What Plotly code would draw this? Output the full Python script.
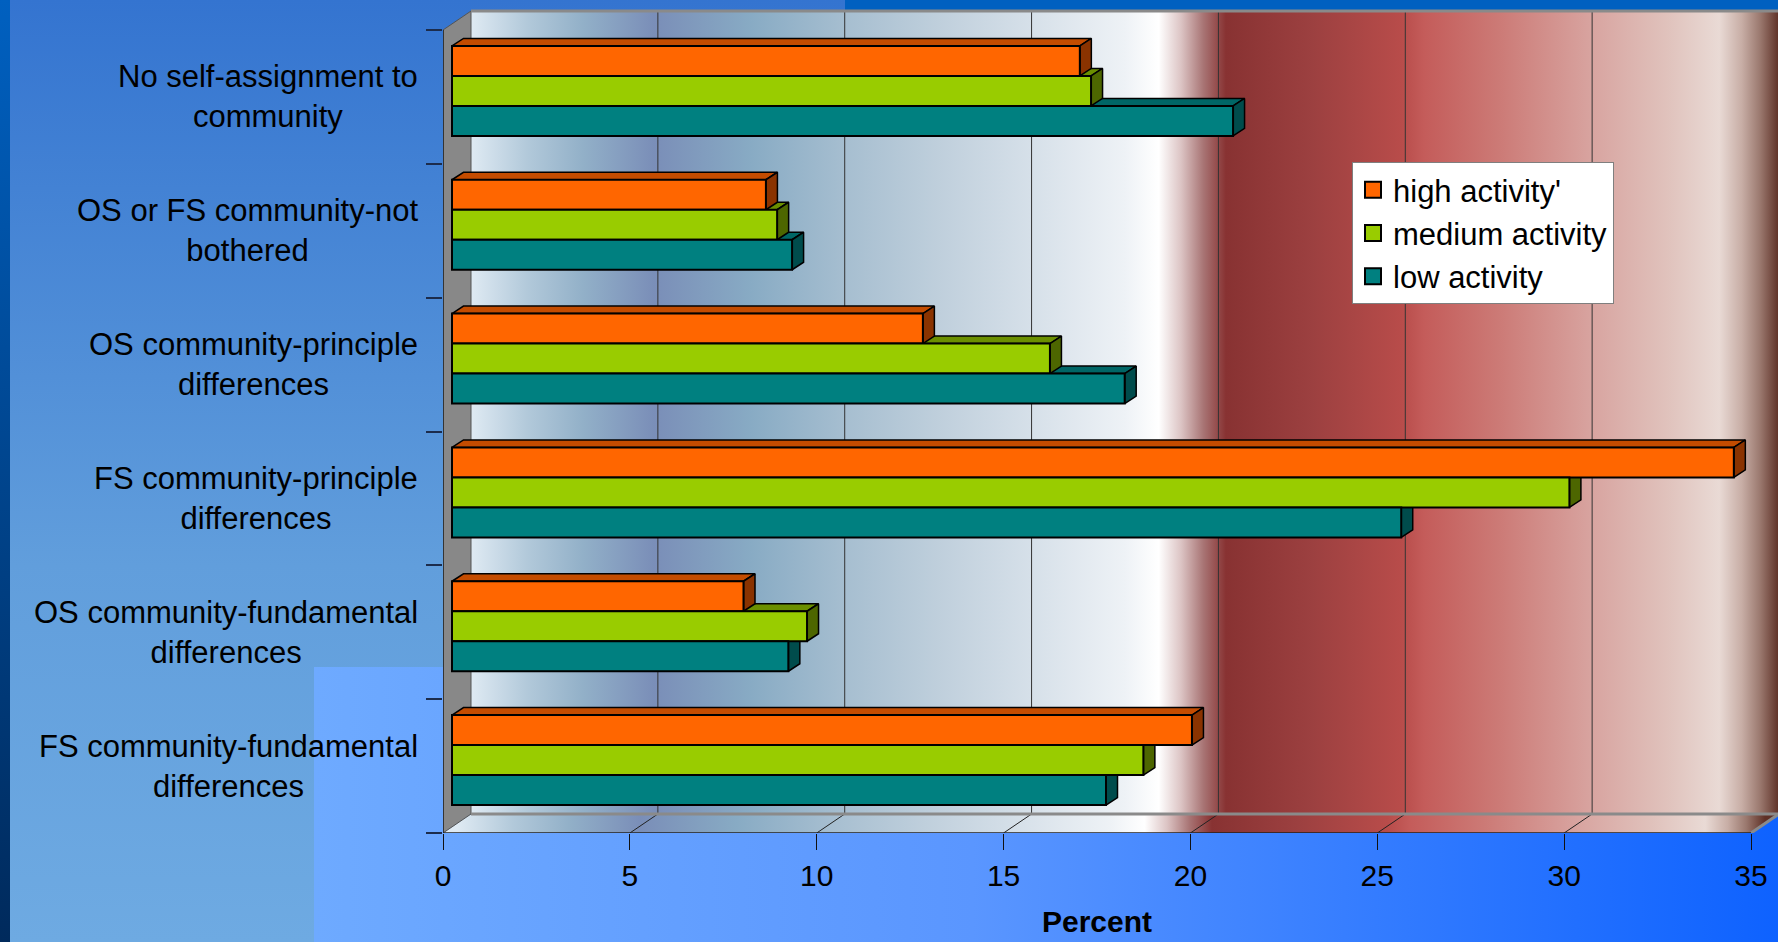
import base64
import plotly.graph_objects as go

# ---------------- data ----------------
categories = [
    "No self-assignment to<br>community",
    "OS or FS community-not<br>bothered",
    "OS community-principle<br>differences",
    "FS community-principle<br>differences",
    "OS community-fundamental<br>differences",
    "FS community-fundamental<br>differences",
]
series_names = ["high activity'", "medium activity", "low activity"]
high_activity = [16.8, 8.4, 12.6, 34.3, 7.8, 19.8]
medium_activity = [17.1, 8.7, 16.0, 29.9, 9.5, 18.5]
low_activity = [20.9, 9.1, 18.0, 25.4, 9.0, 17.5]
x_ticks = [0, 5, 10, 15, 20, 25, 30, 35]
x_title = "Percent"

# ---------------- style ----------------
front_colors = ["#ff6600", "#99cc00", "#008080"]
top_colors = ["#c44c00", "#6b8f00", "#006666"]
side_colors = ["#8a3300", "#4d6600", "#004c4c"]
FONT = "Liberation Sans, Arial, sans-serif"

FIG_W, FIG_H = 1778, 942
L_PX, T_PX, B_PX = 443, 6, 833
X_END = x_ticks[-1]
PX_X = (1751 - L_PX) / X_END
BAND = (B_PX - 30) / len(categories)
XMAX = (FIG_W - L_PX) / PX_X
YMIN = -0.5
YTOP = YMIN + len(categories)
YMAX = YMIN + (B_PX - T_PX) / BAND
WALL_DX, WALL_DY = 28 / PX_X, 19 / BAND
BAR_SHIFT_X, BAR_SHIFT_Y = 9 / PX_X, 6 / BAND
BAR_DX, BAR_DY = 11.5 / PX_X, 7.5 / BAND
BAR_H = 30 / BAND

wall_stops = [
    (0.0, "#dfeaf3"), (1.5, "#b2c9da"), (3.0, "#92b0c8"), (4.9, "#7a8eb8"),
    (7.5, "#88abc4"), (10, "#a6bed0"), (12.5, "#bfcfdc"), (15, "#d6e0e9"),
    (17.5, "#eef2f6"), (18.4, "#ffffff"), (19.0, "#dcc4c4"), (19.6, "#a87474"),
    (20.2, "#883232"), (22.5, "#9c4040"), (24.9, "#b84c4a"), (25.5, "#c45c5a"),
    (27.5, "#cc7a76"), (30, "#d8a4a0"), (32, "#e0c2bc"), (33.4, "#e9dad5"),
    (34.0, "#c8aea6"), (34.5, "#9a786e"), (35, "#5e3026"),
]
wall_scale = [[u / 35, c] for u, c in wall_stops]

n = len(categories)
cat_pos = [n - 1 - i for i in range(n)]

fig = go.Figure()

# ---- 3D box: back wall, floor, left wall ----
fig.add_trace(go.Scatter(
    x=[WALL_DX, X_END + WALL_DX, X_END + WALL_DX, WALL_DX, WALL_DX],
    y=[YMIN + WALL_DY, YMIN + WALL_DY, YTOP + WALL_DY, YTOP + WALL_DY, YMIN + WALL_DY],
    mode="lines", line=dict(width=0), fill="toself",
    fillgradient=dict(type="horizontal", colorscale=wall_scale,
                      start=WALL_DX, stop=X_END + WALL_DX),
    showlegend=False, hoverinfo="skip"))
fig.add_trace(go.Scatter(
    x=[0, X_END, X_END + WALL_DX, WALL_DX, 0],
    y=[YMIN, YMIN, YMIN + WALL_DY, YMIN + WALL_DY, YMIN],
    mode="lines", line=dict(width=0), fill="toself",
    fillgradient=dict(type="horizontal", colorscale=wall_scale,
                      start=WALL_DX / 2, stop=X_END + WALL_DX / 2),
    showlegend=False, hoverinfo="skip"))
fig.add_trace(go.Scatter(
    x=[0, WALL_DX, WALL_DX, 0, 0],
    y=[YMIN, YMIN + WALL_DY, YTOP + WALL_DY, YTOP, YMIN],
    mode="lines", line=dict(width=1, color="#555555"), fill="toself",
    fillcolor="#888888", showlegend=False, hoverinfo="skip"))

# gridlines on back wall and floor
gx, gy, fx, fy = [], [], [], []
for t in x_ticks[1:-1]:
    gx += [t + WALL_DX, t + WALL_DX, None]
    gy += [YMIN + WALL_DY, YTOP + WALL_DY, None]
    fx += [t, t + WALL_DX, None]
    fy += [YMIN, YMIN + WALL_DY, None]
fig.add_trace(go.Scatter(x=gx, y=gy, mode="lines", line=dict(color="#333333", width=1),
                         showlegend=False, hoverinfo="skip"))
fig.add_trace(go.Scatter(x=fx, y=fy, mode="lines", line=dict(color="#222222", width=1),
                         showlegend=False, hoverinfo="skip"))
# gray edges of box
fig.add_trace(go.Scatter(
    x=[WALL_DX, X_END + WALL_DX, None, WALL_DX, X_END + WALL_DX, None, X_END, X_END + WALL_DX],
    y=[YMIN + WALL_DY, YMIN + WALL_DY, None, YTOP + WALL_DY, YTOP + WALL_DY, None, YMIN, YMIN + WALL_DY],
    mode="lines", line=dict(color="#8a8a8a", width=3), showlegend=False, hoverinfo="skip"))
# front axis lines
fig.add_trace(go.Scatter(
    x=[0, 0, None, 0, X_END], y=[YTOP, YMIN, None, YMIN, YMIN],
    mode="lines", line=dict(color="#222222", width=1.5), showlegend=False, hoverinfo="skip"))

# ---- bar side faces (main axes, below front faces) ----
series_vals = [high_activity, medium_activity, low_activity]
series_off = [BAR_H, 0.0, -BAR_H]
b = BAR_SHIFT_X
for k in [2, 1, 0]:
    tx, ty, sx, sy = [], [], [], []
    for v, p in zip(series_vals[k], cat_pos):
        yc = p + BAR_SHIFT_Y + series_off[k]
        top, bot = yc + BAR_H / 2, yc - BAR_H / 2
        tx += [b, b + BAR_DX, b + v + BAR_DX, b + v, b, None]
        ty += [top, top + BAR_DY, top + BAR_DY, top, top, None]
        sx += [b + v, b + v, b + v + BAR_DX, b + v + BAR_DX, b + v, None]
        sy += [bot, top, top + BAR_DY, bot + BAR_DY, bot, None]
    fig.add_trace(go.Scatter(x=tx, y=ty, mode="lines", fill="toself", fillcolor=top_colors[k],
                             line=dict(color="black", width=1.5), showlegend=False, hoverinfo="skip"))
    fig.add_trace(go.Scatter(x=sx, y=sy, mode="lines", fill="toself", fillcolor=side_colors[k],
                             line=dict(color="black", width=1.5), showlegend=False, hoverinfo="skip"))

# legend entries (square swatches like the original)
for k in range(3):
    fig.add_trace(go.Scatter(
        x=[None], y=[None], mode="markers", name=series_names[k],
        marker=dict(symbol="square", size=16, color=front_colors[k],
                    line=dict(color="black", width=2)),
        legendgroup=series_names[k], showlegend=True))

# ---- bar front faces (overlay axes, on top) ----
for k in range(3):
    fig.add_trace(go.Bar(
        orientation="h", name=series_names[k],
        x=series_vals[k],
        y=[p + BAR_SHIFT_Y + series_off[k] for p in cat_pos],
        base=BAR_SHIFT_X, width=BAR_H,
        marker=dict(color=front_colors[k], line=dict(color="black", width=2)),
        legendgroup=series_names[k], showlegend=False,
        xaxis="x2", yaxis="y2"))

# ---- category labels ----
annotations = []
for name, p in zip(categories, cat_pos):
    annotations.append(dict(
        text=name, xref="paper", x=0, xanchor="right", xshift=-23,
        yref="y", y=p, yanchor="middle", showarrow=False, align="center",
        font=dict(family=FONT, size=31, color="black")))
annotations.append(dict(
    text="<b>" + x_title + "</b>", xref="x", x=X_END / 2, yref="paper",
    y=(B_PX - 921) / (B_PX - T_PX), yanchor="middle", showarrow=False,
    font=dict(family=FONT, size=30, color="black")))

# ---- slide background (SVG) ----
svg = f"""<svg xmlns="http://www.w3.org/2000/svg" width="{FIG_W}" height="{FIG_H}" viewBox="0 0 {FIG_W} {FIG_H}" preserveAspectRatio="none">
<defs>
<linearGradient id="g1" x1="0" y1="0" x2="0" y2="1"><stop offset="0" stop-color="#3474d0"/><stop offset="0.6" stop-color="#619edc"/><stop offset="1" stop-color="#6eaae2"/></linearGradient>
<linearGradient id="g2" x1="0" y1="0" x2="0" y2="1"><stop offset="0" stop-color="#0060c0"/><stop offset="1" stop-color="#002a5c"/></linearGradient>
<linearGradient id="g3" x1="0" y1="0" x2="1" y2="0"><stop offset="0" stop-color="#6eaaff"/><stop offset="0.45" stop-color="#5a96ff"/><stop offset="1" stop-color="#0e62ff"/></linearGradient>
</defs>
<rect width="{FIG_W}" height="{FIG_H}" fill="url(#g1)"/>
<rect x="845" y="0" width="{FIG_W - 845}" height="10" fill="#0060c0"/>
<rect x="314" y="667" width="{FIG_W - 314}" height="{FIG_H - 667}" fill="url(#g3)"/>
<rect x="0" y="0" width="10" height="{FIG_H}" fill="url(#g2)"/>
</svg>"""
svg_uri = "data:image/svg+xml;base64," + base64.b64encode(svg.encode()).decode()
plot_w = FIG_W - L_PX
plot_h = B_PX - T_PX

fig.update_layout(
    width=FIG_W, height=FIG_H, autosize=False,
    margin=dict(l=L_PX, r=0, t=T_PX, b=FIG_H - B_PX, pad=0),
    paper_bgcolor="#4a88d8", plot_bgcolor="rgba(0,0,0,0)",
    barmode="overlay",
    font=dict(family=FONT, color="black"),
    xaxis=dict(range=[0, XMAX], tickvals=x_ticks, ticks="outside", ticklen=16,
               tickcolor="#111111", tickwidth=1, showgrid=False, zeroline=False,
               showline=False, tickfont=dict(family=FONT, size=30, color="black"),
               ticklabelstandoff=0, fixedrange=True),
    yaxis=dict(range=[YMIN, YMAX], tickvals=[YMIN + i for i in range(n + 1)],
               ticks="outside", ticklen=16, tickcolor="#1c2c4c", tickwidth=1.5,
               showticklabels=False, showgrid=False, zeroline=False, showline=False,
               fixedrange=True),
    xaxis2=dict(overlaying="x", range=[0, XMAX], visible=False, fixedrange=True),
    yaxis2=dict(overlaying="y", range=[YMIN, YMAX], visible=False, fixedrange=True),
    legend=dict(x=(1352 - L_PX) / plot_w, y=(B_PX - 162) / plot_h, xanchor="left", yanchor="top",
                bgcolor="white", bordercolor="#7f7f7f", borderwidth=1,
                font=dict(family=FONT, size=31, color="black"), tracegroupgap=0),
    annotations=annotations,
    images=[dict(source=svg_uri, xref="paper", yref="paper",
                 x=-L_PX / plot_w, y=B_PX / plot_h, sizex=FIG_W / plot_w, sizey=FIG_H / plot_h,
                 xanchor="left", yanchor="top", sizing="stretch", layer="below")],
    showlegend=True,
)

fig.write_html(
    "out.html",
    config={"displayModeBar": False},
    post_script="document.body.style.margin='0';document.documentElement.style.overflow='hidden';",
)
